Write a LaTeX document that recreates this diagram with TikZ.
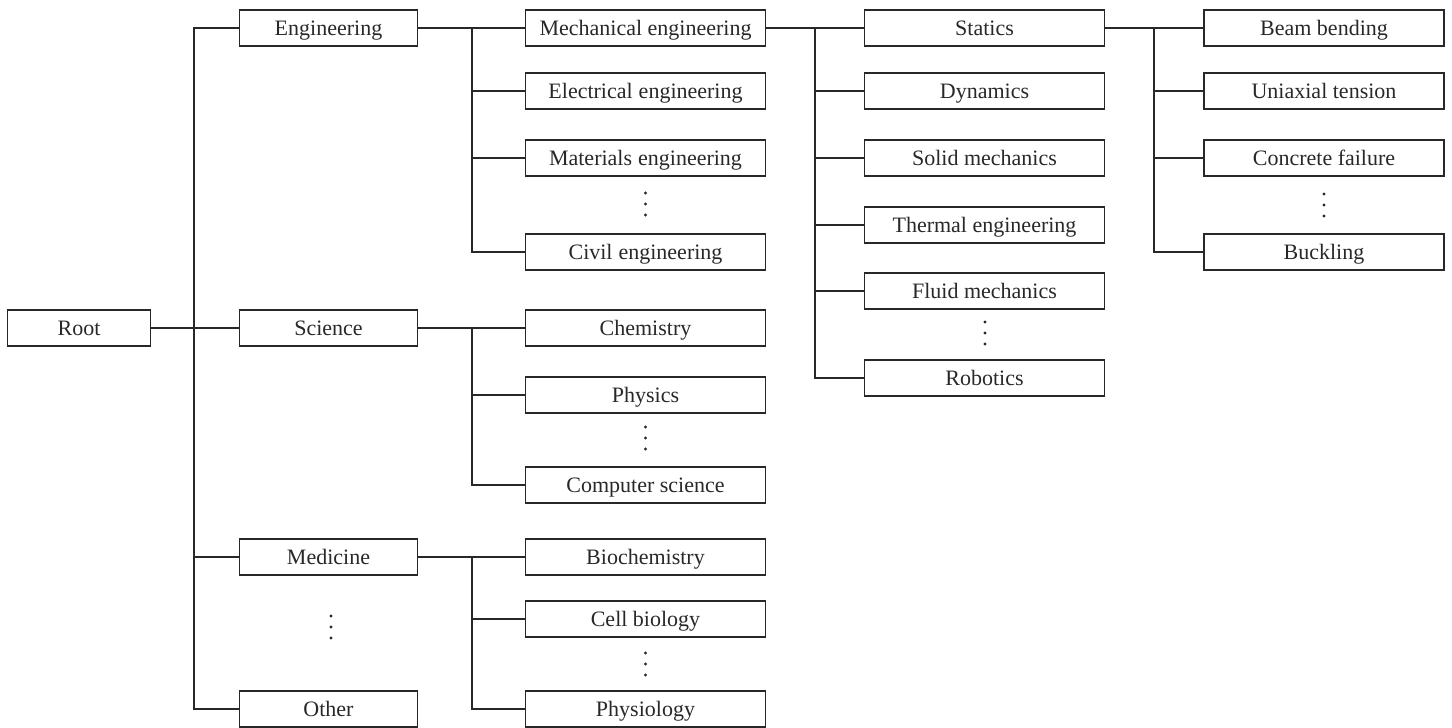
\documentclass[tikz,border=0pt]{standalone}
\usepackage{fontspec}
\setmainfont{Liberation Serif}

\definecolor{inkgray}{RGB}{40,40,40}
\tikzset{
  box/.style={draw=inkgray, line width=1.6pt, minimum height=36pt, inner sep=0pt,
              text height=14pt, text depth=0pt,
              text=inkgray, font=\fontsize{22}{26}\selectfont},
  widebox/.style={box, minimum width=240pt},
  link/.style={draw=inkgray, line width=1.6pt},
}

\begin{document}
\begin{tikzpicture}[x=1pt,y=-1pt]
    \useasboundingbox (0,0) rectangle (1452,728);

    % Root
    \node[box, minimum width=143pt] (root) at (79,328) {Root};

    % Fields
    \node[box, minimum width=178pt] (eng) at (328.5,28) {Engineering};
    \node[box, minimum width=178pt] (sci) at (328.5,328) {Science};
    \node[box, minimum width=178pt] (med) at (328.5,557) {Medicine};
    \node[box, minimum width=178pt] (other) at (328.5,709) {Other};

    % Engineering branches
    \node[widebox] (mech) at (645.5,28) {Mechanical engineering};
    \node[widebox] (elec) at (645.5,91) {Electrical\hspace{6pt}engineering};
    \node[widebox] (mat) at (645.5,158) {Materials\hspace{6pt}engineering};
    \node[widebox] (civil) at (645.5,252) {Civil\hspace{6pt}engineering};

    % Science branches
    \node[widebox] (chem) at (645.5,328) {Chemistry};
    \node[widebox] (phys) at (645.5,395) {Physics};
    \node[widebox] (comp) at (645.5,485) {Computer science};

    % Medicine branches
    \node[widebox] (bio) at (645.5,557) {Biochemistry};
    \node[widebox] (cell) at (645.5,619) {Cell biology};
    \node[widebox] (physio) at (645.5,709) {Physiology};

    % Mechanical engineering topics
    \node[widebox] (statics) at (984.5,28) {Statics};
    \node[widebox] (dyn) at (984.5,91) {Dynamics};
    \node[widebox] (solid) at (984.5,158) {Solid mechanics};
    \node[widebox] (thermal) at (984.5,225) {Thermal engineering};
    \node[widebox] (fluid) at (984.5,291) {Fluid mechanics};
    \node[widebox] (robo) at (984.5,378) {Robotics};

    % Statics problems
    \node[widebox] (beam) at (1324,28) {Beam bending};
    \node[widebox] (tension) at (1324,91) {Uniaxial tension};
    \node[widebox] (concrete) at (1324,158) {Concrete failure};
    \node[widebox] (buckle) at (1324,252) {Buckling};

    % Root tree
    \draw[link] (root) -- (sci);
    \draw[link] (eng.west) -- ++(-45,0) |- (other.west);
    \draw[link] (med.west) -- ++(-45,0);

    % Second level
    \draw[link] (eng) -- (mech);
    \draw[link] (mech.west) -- ++(-53,0) |- (civil.west);
    \draw[link] (elec.west) -- ++(-53,0);
    \draw[link] (mat.west) -- ++(-53,0);

    \draw[link] (sci) -- (chem);
    \draw[link] (chem.west) -- ++(-53,0) |- (comp.west);
    \draw[link] (phys.west) -- ++(-53,0);

    \draw[link] (med) -- (bio);
    \draw[link] (bio.west) -- ++(-53,0) |- (physio.west);
    \draw[link] (cell.west) -- ++(-53,0);

    % Third level
    \draw[link] (mech) -- (statics);
    \draw[link] (statics.west) -- ++(-49,0) |- (robo.west);
    \foreach \n in {dyn,solid,thermal,fluid}
        \draw[link] (\n.west) -- ++(-49,0);

    % Fourth level
    \draw[link] (statics) -- (beam);
    \draw[link] (beam.west) -- ++(-49,0) |- (buckle.west);
    \draw[link] (tension.west) -- ++(-49,0);
    \draw[link] (concrete.west) -- ++(-49,0);

    % Vertical dots
    \foreach \px/\py in {331/627, 645.5/204, 645.5/438, 645.5/664, 985/333, 1324/205}
        \foreach \k in {-11,0,11}
            \fill[inkgray] (\px,\py+\k) circle (1.6pt);
\end{tikzpicture}
\end{document}
